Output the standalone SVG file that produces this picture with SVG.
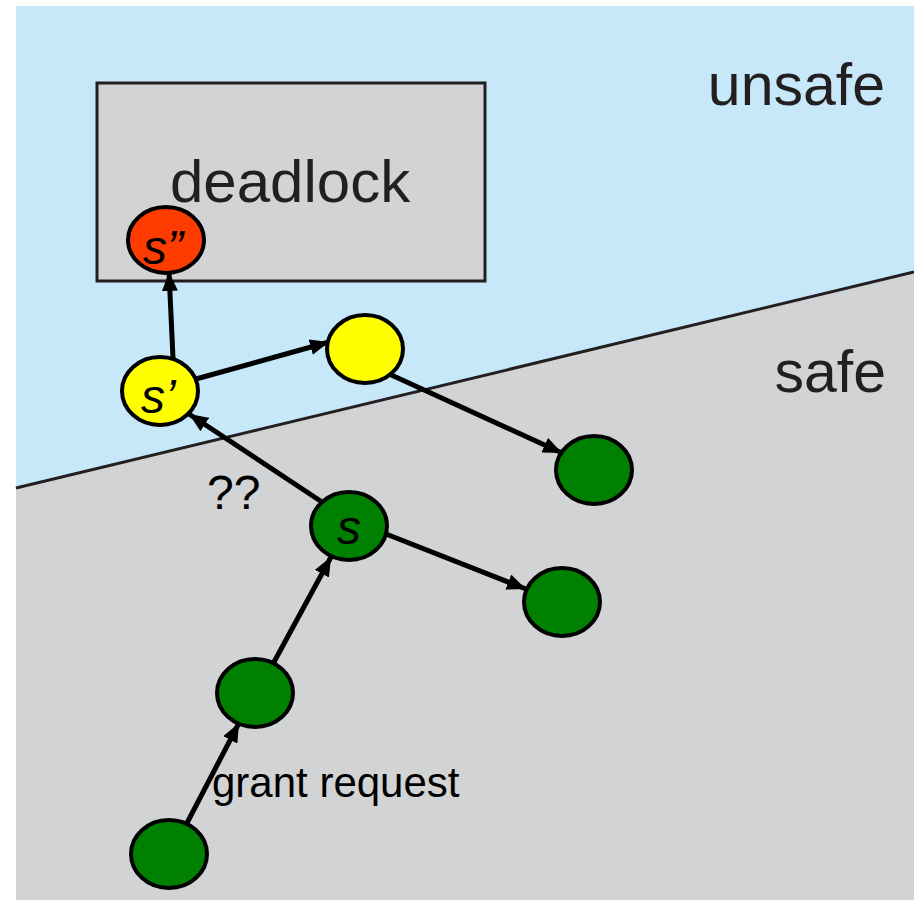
<svg xmlns="http://www.w3.org/2000/svg" width="914" height="900" viewBox="0 0 914 900">
<style>
.lbl{font-family:"Liberation Sans",Arial,sans-serif;fill:#231f20}
.nl{font-family:"Liberation Sans",Arial,sans-serif;font-style:italic;font-size:48px;fill:#000}
.node{stroke:#000;stroke-width:4}
.conn{stroke:#000;stroke-width:5;fill:none;marker-end:url(#arr)}
</style>
<defs>
<marker id="arr" markerUnits="userSpaceOnUse" markerWidth="20" markerHeight="16" refX="19" refY="8" orient="auto">
<path d="M0,0 L19,8 L0,16 z" fill="#000"/>
</marker>
</defs>
<rect x="0" y="0" width="914" height="900" fill="#fff"/>
<g id="regions">
<rect x="16" y="6" width="898" height="894" fill="#c6e8f9"/>
<polygon points="16,488 914,272 914,900 16,900" fill="#d1d3d4"/>
<line x1="16" y1="488" x2="914" y2="272" stroke="#231f20" stroke-width="3"/>
<text class="lbl" x="885" y="105" font-size="59" text-anchor="end">unsafe</text>
<text class="lbl" x="886" y="392" font-size="59" text-anchor="end">safe</text>
</g>
<g id="deadlock">
<rect x="97" y="83" width="388" height="198" fill="#d1d3d4" stroke="#231f20" stroke-width="3"/>
<text class="lbl" x="170" y="202" font-size="60">deadlock</text>
</g>
<g id="connectors">
<line class="conn" x1="187" y1="823" x2="239" y2="723"/>
<line class="conn" x1="274" y1="662" x2="331" y2="557"/>
<line class="conn" x1="322" y1="502" x2="189" y2="414"/>
<line class="conn" x1="386" y1="534" x2="526" y2="589"/>
<line class="conn" x1="173" y1="358" x2="169" y2="272"/>
<line class="conn" x1="196" y1="379" x2="329" y2="342"/>
<line class="conn" x1="387" y1="373" x2="562" y2="453"/>
<text x="207" y="509" font-family="Liberation Sans, Arial, sans-serif" font-size="48" fill="#000">??</text>
<text x="212" y="797" font-family="Liberation Sans, Arial, sans-serif" font-size="42" fill="#000">grant request</text>
</g>
<g id="s2">
<ellipse class="node" cx="166" cy="240" rx="38" ry="33" fill="#ff3c00"/>
<text class="nl" x="143" y="264">s”</text>
</g>
<g id="s1">
<ellipse class="node" cx="160" cy="391" rx="38" ry="34" fill="#ffff00"/>
<text class="nl" x="141" y="413">s’</text>
</g>
<g id="y2">
<ellipse class="node" cx="365" cy="349" rx="38" ry="34" fill="#ffff00"/>
</g>
<g id="g1">
<ellipse class="node" cx="594" cy="470" rx="38" ry="34" fill="#008000"/>
</g>
<g id="s">
<ellipse class="node" cx="349" cy="526" rx="38" ry="34" fill="#008000"/>
<text class="nl" x="337" y="544">s</text>
</g>
<g id="g2">
<ellipse class="node" cx="562" cy="602" rx="38" ry="34" fill="#008000"/>
</g>
<g id="g3">
<ellipse class="node" cx="255" cy="693" rx="38" ry="34" fill="#008000"/>
</g>
<g id="g4">
<ellipse class="node" cx="169" cy="854" rx="38" ry="34" fill="#008000"/>
</g>
</svg>
